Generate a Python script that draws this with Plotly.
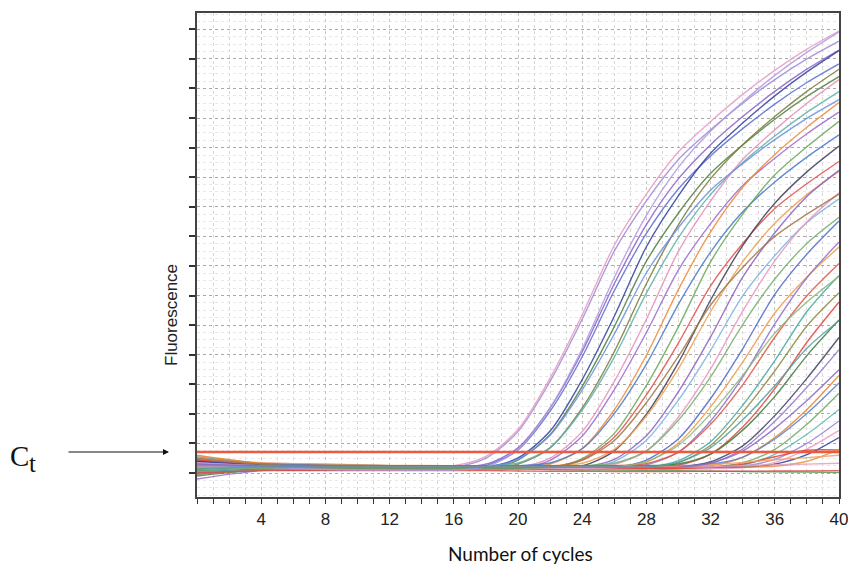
import plotly.graph_objects as go

cycles = [0, 4, 8, 12, 16, 18, 20, 22, 24, 26, 28, 30, 32, 34, 36, 38, 40]

curves = [
    [0.35, 0.3, 0.22, 0.2, 0.2, 0.5, 1.4, 3.1, 5.2, 7.5, 9.2, 10.6, 11.6, 12.5, 13.3, 14.0, 14.6],
    [0.5, 0.35, 0.3, 0.25, 0.25, 0.56, 1.47, 3.21, 5.35, 7.7, 9.43, 10.86, 11.88, 12.8, 13.61, 14.33, 14.94],
    [0.1, 0.2, 0.18, 0.2, 0.22, 0.3, 0.85, 2.2, 4.1, 6.4, 8.4, 9.95, 11.1, 12.05, 12.9, 13.65, 14.3],
    [0.0, 0.12, 0.15, 0.14, 0.15, 0.25, 0.78, 2.09, 3.93, 6.16, 8.1, 9.61, 10.72, 11.64, 12.47, 13.2, 13.83],
    [0.45, 0.28, 0.2, 0.18, 0.2, 0.2, 0.51, 1.42, 3.16, 5.3, 7.65, 9.38, 10.81, 11.83, 12.75, 13.56, 14.28],
    [-0.1, 0.1, 0.12, 0.15, 0.15, 0.15, 0.44, 1.3, 2.93, 4.95, 7.16, 8.79, 10.13, 11.09, 11.96, 12.73, 13.4],
    [0.3, 0.25, 0.2, 0.2, 0.2, 0.2, 0.3, 0.85, 2.2, 4.1, 6.4, 8.4, 9.95, 11.1, 12.05, 12.9, 13.65],
    [0.55, 0.32, 0.28, 0.25, 0.25, 0.25, 0.34, 0.86, 2.13, 3.92, 6.08, 7.96, 9.42, 10.5, 11.39, 12.19, 12.89],
    [0.2, 0.22, 0.18, 0.2, 0.2, 0.2, 0.2, 0.5, 1.4, 3.1, 5.2, 7.5, 9.2, 10.6, 11.6, 12.5, 13.3],
    [-0.2, 0.08, 0.1, 0.14, 0.15, 0.15, 0.15, 0.43, 1.25, 2.82, 4.75, 6.87, 8.43, 9.72, 10.64, 11.47, 12.2],
    [0.4, 0.3, 0.24, 0.2, 0.2, 0.2, 0.2, 0.3, 0.83, 2.14, 3.98, 6.21, 8.15, 9.66, 10.77, 11.69, 12.52],
    [0.25, 0.28, 0.22, 0.24, 0.25, 0.25, 0.25, 0.34, 0.82, 2.01, 3.68, 5.71, 7.47, 8.83, 9.84, 10.68, 11.43],
    [0.15, 0.2, 0.16, 0.18, 0.2, 0.2, 0.2, 0.2, 0.49, 1.34, 2.96, 4.95, 7.14, 8.75, 10.08, 11.03, 11.89],
    [0.35, 0.3, 0.22, 0.2, 0.2, 0.2, 0.2, 0.2, 0.45, 1.21, 2.64, 4.4, 6.33, 7.76, 8.94, 9.78, 10.53],
    [0.05, 0.12, 0.12, 0.14, 0.15, 0.15, 0.15, 0.15, 0.24, 0.75, 1.99, 3.74, 5.85, 7.69, 9.12, 10.18, 11.05],
    [0.45, 0.34, 0.3, 0.26, 0.25, 0.25, 0.25, 0.25, 0.33, 0.8, 1.93, 3.53, 5.46, 7.14, 8.44, 9.41, 10.2],
    [0.3, 0.25, 0.18, 0.2, 0.2, 0.2, 0.2, 0.2, 0.2, 0.46, 1.26, 2.75, 4.6, 6.62, 8.12, 9.35, 10.23],
    [0.0, 0.1, 0.12, 0.14, 0.15, 0.15, 0.15, 0.15, 0.15, 0.39, 1.11, 2.47, 4.15, 5.99, 7.35, 8.47, 9.27],
    [0.5, 0.3, 0.22, 0.2, 0.2, 0.2, 0.2, 0.2, 0.2, 0.29, 0.75, 1.9, 3.52, 5.47, 7.17, 8.49, 9.47],
    [0.2, 0.28, 0.25, 0.24, 0.25, 0.25, 0.25, 0.25, 0.25, 0.33, 0.75, 1.79, 3.25, 5.02, 6.56, 7.76, 8.64],
    [0.1, 0.18, 0.16, 0.2, 0.2, 0.2, 0.2, 0.2, 0.2, 0.2, 0.44, 1.16, 2.52, 4.2, 6.04, 7.4, 8.52],
    [0.3, 0.2, 0.14, 0.15, 0.15, 0.15, 0.15, 0.15, 0.15, 0.15, 0.37, 1.01, 2.24, 3.75, 5.41, 6.63, 7.64],
    [0.4, 0.3, 0.2, 0.18, 0.2, 0.2, 0.2, 0.2, 0.2, 0.2, 0.28, 0.71, 1.76, 3.24, 5.04, 6.6, 7.81],
    [0.15, 0.3, 0.26, 0.24, 0.25, 0.25, 0.25, 0.25, 0.25, 0.25, 0.32, 0.71, 1.65, 2.98, 4.59, 5.99, 7.08],
    [0.25, 0.22, 0.18, 0.2, 0.2, 0.2, 0.2, 0.2, 0.2, 0.2, 0.2, 0.42, 1.06, 2.29, 3.8, 5.46, 6.68],
    [-0.05, 0.1, 0.12, 0.15, 0.15, 0.15, 0.15, 0.15, 0.15, 0.15, 0.15, 0.35, 0.94, 2.06, 3.45, 4.97, 6.09],
    [0.45, 0.26, 0.2, 0.2, 0.2, 0.2, 0.2, 0.2, 0.2, 0.2, 0.2, 0.27, 0.64, 1.56, 2.85, 4.42, 5.78],
    [0.3, 0.3, 0.24, 0.25, 0.25, 0.25, 0.25, 0.25, 0.25, 0.25, 0.25, 0.31, 0.64, 1.45, 2.59, 3.97, 5.17],
    [0.1, 0.2, 0.18, 0.2, 0.2, 0.2, 0.2, 0.2, 0.2, 0.2, 0.2, 0.2, 0.38, 0.92, 1.94, 3.2, 4.58],
    [0.2, 0.14, 0.12, 0.14, 0.15, 0.15, 0.15, 0.15, 0.15, 0.15, 0.15, 0.15, 0.32, 0.81, 1.75, 2.9, 4.17],
    [0.6, 0.32, 0.22, 0.2, 0.2, 0.2, 0.2, 0.2, 0.2, 0.2, 0.2, 0.2, 0.25, 0.53, 1.2, 2.15, 3.3],
    [0.35, 0.3, 0.26, 0.25, 0.25, 0.25, 0.25, 0.25, 0.25, 0.25, 0.25, 0.25, 0.3, 0.54, 1.15, 2.01, 3.04],
    [0.2, 0.24, 0.2, 0.18, 0.2, 0.2, 0.2, 0.2, 0.2, 0.2, 0.2, 0.2, 0.2, 0.35, 0.8, 1.65, 2.7],
    [0.05, 0.1, 0.14, 0.15, 0.15, 0.15, 0.15, 0.15, 0.15, 0.15, 0.15, 0.15, 0.15, 0.27, 0.63, 1.31, 2.15],
    [0.3, 0.22, 0.2, 0.2, 0.2, 0.2, 0.2, 0.2, 0.2, 0.2, 0.2, 0.2, 0.2, 0.24, 0.46, 1.0, 1.76],
    [0.25, 0.16, 0.14, 0.15, 0.15, 0.15, 0.15, 0.15, 0.15, 0.15, 0.15, 0.15, 0.15, 0.18, 0.36, 0.81, 1.44],
    [0.4, 0.25, 0.2, 0.2, 0.2, 0.2, 0.2, 0.2, 0.2, 0.2, 0.2, 0.2, 0.2, 0.2, 0.3, 0.62, 1.2],
    [0.3, 0.22, 0.2, 0.18, 0.2, 0.2, 0.2, 0.2, 0.2, 0.18, 0.15, 0.15, 0.2, 0.3, 0.55, 0.77, 0.78],
    [0.15, 0.2, 0.2, 0.2, 0.2, 0.2, 0.2, 0.2, 0.2, 0.2, 0.2, 0.2, 0.2, 0.2, 0.23, 0.4, 0.8],
    [0.1, 0.15, 0.14, 0.15, 0.15, 0.15, 0.15, 0.12, 0.1, 0.1, 0.08, 0.08, 0.06, 0.05, 0.04, 0.03, 0.02],
    [0.35, 0.25, 0.2, 0.2, 0.2, 0.2, 0.2, 0.2, 0.2, 0.2, 0.2, 0.2, 0.22, 0.25, 0.28, 0.3, 0.33],
    [0.2, 0.2, 0.2, 0.2, 0.2, 0.2, 0.2, 0.2, 0.2, 0.2, 0.2, 0.22, 0.28, 0.36, 0.45, 0.52, 0.6],
    [0.0, 0.08, 0.08, 0.08, 0.08, 0.08, 0.07, 0.06, 0.06, 0.05, 0.05, 0.05, 0.06, 0.06, 0.07, 0.07, 0.08],
    [0.3, 0.2, 0.12, 0.1, 0.1, 0.21, 0.78, 2.2, 4.2, 6.61, 8.71, 10.34, 11.55, 12.54, 13.44, 14.22, 14.91],
    [0.25, 0.22, 0.2, 0.2, 0.2, 0.2, 0.47, 1.28, 2.81, 4.7, 6.77, 8.3, 9.56, 10.46, 11.27, 11.99, 12.62],
    [0.5, 0.3, 0.22, 0.2, 0.2, 0.2, 0.2, 0.2, 0.43, 1.1, 2.38, 3.95, 5.68, 6.95, 8.0, 8.75, 9.43],
    [0.1, 0.18, 0.2, 0.2, 0.2, 0.2, 0.2, 0.2, 0.2, 0.2, 0.39, 0.94, 2.0, 3.3, 4.73, 5.78, 6.65],
    [0.3, 0.24, 0.2, 0.2, 0.2, 0.2, 0.2, 0.2, 0.2, 0.2, 0.2, 0.2, 0.34, 0.74, 1.51, 2.45, 3.49],
    [0.15, 0.2, 0.2, 0.2, 0.2, 0.2, 0.2, 0.2, 0.2, 0.2, 0.2, 0.37, 0.86, 1.8, 2.95, 4.22, 5.15],
]

colors = [
    "#a08ad8", "#e79bc4", "#8c5fc7", "#5b6fd0", "#2f3f9e", "#4f7f3f", "#7a7a3a",
    "#5fb0a8", "#e58fb8", "#9a6cd0", "#ee8a3a", "#4a78c8", "#6aa85a", "#e0504a",
    "#3c3c5a", "#f0a050", "#8a60c0", "#7db3e0", "#e896c0", "#78b070", "#5068c8",
    "#f09a48", "#9070c8", "#e05848", "#4aa8a0", "#8a8a40", "#e04a40", "#3f7a3f",
    "#404060", "#9a78d0", "#e8802a", "#5a80d0", "#70a860", "#60b8b0", "#9a80d8",
    "#e8a0c8", "#303a90", "#e04030", "#f09040", "#5a9a5a", "#e0a0c0", "#f0a060",
    "#e04848", "#b09ae0", "#6a90e0", "#a07848", "#88b878", "#8868c0", "#50a0a0",
]

threshold = 0.71
x_ticks = [4, 8, 12, 16, 20, 24, 28, 32, 36, 40]
y_ticks = list(range(0, 16))

W, H = 848, 565
L, R, T, B = 197, 9, 13, 68
PW, PH = W - L - R, H - T - B


def px_x(px):
    return (px - L) / PW


def px_y(py):
    return (H - B - py) / PH


fig = go.Figure()
for vals, col in zip(curves, colors):
    fig.add_trace(go.Scatter(
        x=cycles, y=vals, mode="lines",
        line=dict(color=col, width=1.4, shape="spline", smoothing=0.8),
        opacity=0.85, hoverinfo="skip", showlegend=False,
    ))

fig.add_trace(go.Scatter(
    x=[cycles[0], cycles[-1]], y=[threshold, threshold], mode="lines",
    line=dict(color="#ec5a40", width=2.5), showlegend=False, hoverinfo="skip",
))

tick_font = dict(family="Liberation Sans, Arial, sans-serif", size=17, color="#222")

fig.update_layout(
    width=W, height=H,
    margin=dict(l=L, r=R, t=T, b=B, autoexpand=False),
    paper_bgcolor="white", plot_bgcolor="white",
    xaxis=dict(
        range=[0, 40], tickvals=x_ticks, ticks="outside", ticklen=5,
        tickcolor="#333", tickwidth=1.2, tickfont=tick_font,
        showline=True, linecolor="#444", linewidth=1.5, mirror=True,
        showgrid=True, gridcolor="#c4c4c4", griddash="dot", gridwidth=1,
        zeroline=False, ticklabelstandoff=1, automargin=False,
        ticklabeloverflow="allow",
        minor=dict(dtick=1, tick0=0, ticks="outside", ticklen=5,
                   tickcolor="#333", tickwidth=1.2, showgrid=True,
                   gridcolor="#d6d6d6", griddash="dot", gridwidth=1),
    ),
    yaxis=dict(
        range=[-0.81, 15.55], tickvals=y_ticks, ticks="outside", ticklen=6,
        tickcolor="#333", tickwidth=1.5, showticklabels=False,
        showline=True, linecolor="#444", linewidth=1.5, mirror=True,
        showgrid=True, gridcolor="#a8a8a8", griddash="3px,3px", gridwidth=1,
        zeroline=False, automargin=False,
        minor=dict(dtick=0.25, tick0=0, ticks="", showgrid=True,
                   gridcolor="#e8e8e8", griddash="dot", gridwidth=1),
    ),
    annotations=[
        dict(text="Fluorescence", xref="paper", yref="paper",
             x=px_x(171.5), y=px_y(315.5), textangle=-90, showarrow=False,
             xanchor="center", yanchor="middle",
             font=dict(family="Liberation Sans, Arial, sans-serif", size=17, color="#222")),
        dict(text="Number of cycles", xref="paper", yref="paper",
             x=px_x(520), y=px_y(553), showarrow=False,
             xanchor="center", yanchor="middle",
             font=dict(family="Lato, sans-serif", size=19, color="#111")),
        dict(text="C", xref="paper", yref="paper",
             x=px_x(19), y=px_y(456), showarrow=False,
             xanchor="center", yanchor="middle",
             font=dict(family="Liberation Serif, serif", size=29, color="#111")),
        dict(text="t", xref="paper", yref="paper",
             x=px_x(32), y=px_y(463), showarrow=False,
             xanchor="center", yanchor="middle",
             font=dict(family="Liberation Serif, serif", size=25, color="#111")),
        dict(text="", xref="paper", yref="paper",
             x=px_x(169), y=px_y(452), ax=-102, ay=0,
             showarrow=True, arrowhead=2, arrowsize=1, arrowwidth=1.2,
             arrowcolor="#111", standoff=0),
    ],
)

fig.write_html("out.html")
